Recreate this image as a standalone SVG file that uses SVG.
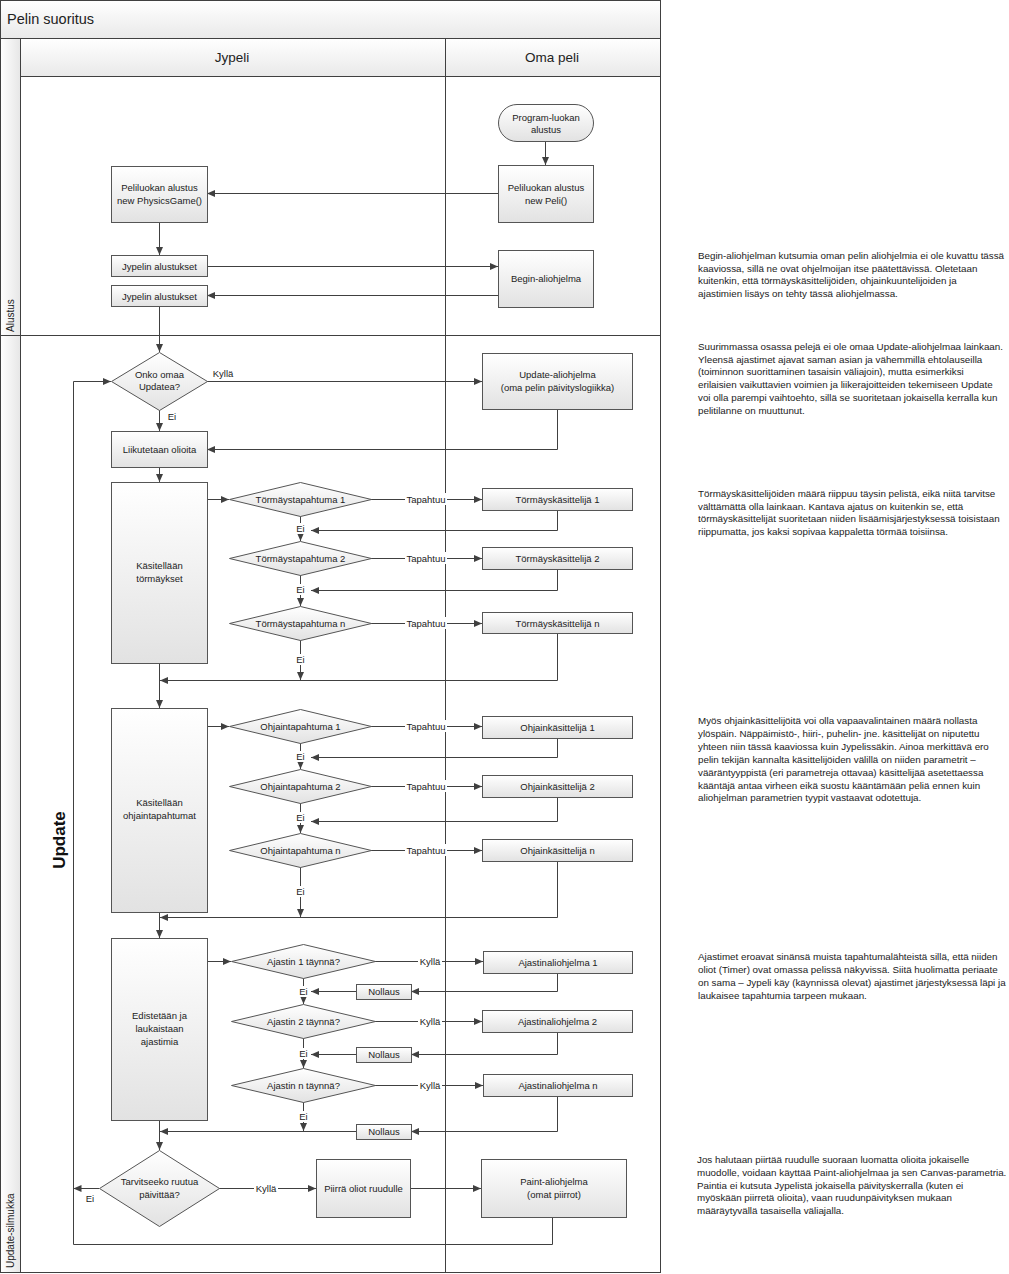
<svg xmlns="http://www.w3.org/2000/svg" width="1009" height="1274" viewBox="0 0 1009 1274">
<defs>
<linearGradient id="g" x1="0" y1="0" x2="0" y2="1"><stop offset="0" stop-color="#ffffff"/><stop offset="1" stop-color="#e2e2e2"/></linearGradient>
<linearGradient id="gh" x1="0" y1="0" x2="0" y2="1"><stop offset="0" stop-color="#ffffff"/><stop offset="1" stop-color="#e9e9e9"/></linearGradient>
<linearGradient id="gv" x1="0" y1="0" x2="1" y2="0"><stop offset="0" stop-color="#ffffff"/><stop offset="1" stop-color="#e6e6e6"/></linearGradient>
<marker id="ah" viewBox="0 0 8 7" refX="8" refY="3.5" markerWidth="8" markerHeight="7" markerUnits="userSpaceOnUse" orient="auto"><path d="M0,0 L8,3.5 L0,7 z" fill="#404040"/></marker>
</defs>
<style>
.ln{stroke:#404040;stroke-width:1;fill:none}
.ar{marker-end:url(#ah)}
.bx{fill:url(#g);stroke:#555;stroke-width:1}
.fr{stroke:#404040;stroke-width:1;fill:none}
.t{font-family:"Liberation Sans",Arial,sans-serif;font-size:9.5px;fill:#222;text-anchor:middle}
.lb{font-family:"Liberation Sans",Arial,sans-serif;font-size:9.5px;fill:#222;text-anchor:middle}
.bg{fill:#ffffff}
.nt{font-family:"Liberation Sans",Arial,sans-serif;font-size:9.8px;fill:#222}
.hd{font-family:"Liberation Sans",Arial,sans-serif;font-size:13.5px;fill:#222}
</style>
<rect x="0" y="0" width="1009" height="1274" fill="#ffffff"/>

<g id="pool">
<rect x="0.5" y="0.5" width="660" height="38" fill="url(#gh)"/>
<rect x="0.5" y="38.5" width="20" height="1234" fill="url(#gv)"/>
<rect x="20.5" y="38.5" width="640" height="38" fill="url(#gh)"/>
<rect x="0.5" y="0.5" width="660" height="1272" class="fr"/>
<line x1="0.5" y1="38.5" x2="660.5" y2="38.5" class="fr"/>
<line x1="20.5" y1="38.5" x2="20.5" y2="1272.5" class="fr"/>
<line x1="20.5" y1="76.5" x2="660.5" y2="76.5" class="fr"/>
<line x1="445.5" y1="38.5" x2="445.5" y2="1272.5" class="fr"/>
<line x1="0.5" y1="335.5" x2="660.5" y2="335.5" class="fr"/>
<text x="7" y="24" class="hd" style="font-size:14.5px">Pelin suoritus</text>
<text x="232" y="62" class="hd" text-anchor="middle">Jypeli</text>
<text x="552" y="62" class="hd" text-anchor="middle">Oma peli</text>
<text transform="translate(14,332) rotate(-90)" class="nt" style="font-size:10px">Alustus</text>
<text transform="translate(14,1268) rotate(-90)" class="nt" style="font-size:10px">Update-silmukka</text>
<text transform="translate(65,840) rotate(-90)" font-family="Liberation Sans,Arial,sans-serif" font-size="17" font-weight="bold" fill="#111" text-anchor="middle">Update</text>
</g>

<g id="connectors">
<path class="ln ar" d="M545.5,141 V165"/>
<path class="ln ar" d="M498,193.5 H207"/>
<path class="ln ar" d="M159.5,222 V255"/>
<path class="ln ar" d="M207,266.5 H498"/>
<path class="ln ar" d="M498,295.5 H207"/>
<path class="ln ar" d="M159.5,306 V352"/>
<path class="ln ar" d="M207,381.5 H482"/>
<text x="223" y="377" class="lb">Kyllä</text>
<path class="ln ar" d="M557.5,409 V449.5 H207"/>
<path class="ln ar" d="M159.5,410 V431"/>
<text x="172" y="420" class="lb">Ei</text>
<path class="ln ar" d="M159.5,467 V482"/>
<path class="ln ar" d="M552.5,1217 V1244.5 H73.5 V381.5 H111"/>

<path class="ln ar" d="M207,499.5 H229"/>
<path class="ln ar" d="M371,499.5 H482"/>
<path class="ln ar" d="M557.5,510 V530.5 H311"/>
<path class="ln ar" d="M300.5,516 V541"/>
<path class="ln ar" d="M371,558.5 H482"/>
<path class="ln ar" d="M557.5,569 V590.5 H311"/>
<path class="ln ar" d="M300.5,575 V606"/>
<path class="ln ar" d="M371,623.5 H482"/>
<path class="ln ar" d="M557.5,633 V680.5 H160"/>
<path class="ln ar" d="M300.5,640 V680"/>
<path class="ln ar" d="M159.5,663 V708"/>

<path class="ln ar" d="M207,726.5 H229"/>
<path class="ln ar" d="M371,726.5 H482"/>
<path class="ln ar" d="M557.5,738 V757.5 H311"/>
<path class="ln ar" d="M300.5,743 V769"/>
<path class="ln ar" d="M371,786.5 H482"/>
<path class="ln ar" d="M557.5,797 V821.5 H311"/>
<path class="ln ar" d="M300.5,803 V833"/>
<path class="ln ar" d="M371,850.5 H482"/>
<path class="ln ar" d="M557.5,861 V917.5 H160"/>
<path class="ln ar" d="M300.5,867 V917"/>
<path class="ln ar" d="M159.5,912 V938"/>

<path class="ln ar" d="M207,961.5 H231"/>
<path class="ln ar" d="M375,961.5 H483"/>
<path class="ln ar" d="M557.5,973 V991.5 H411"/>
<path class="ln ar" d="M356,991.5 H311"/>
<path class="ln ar" d="M303.5,978 V1004"/>
<path class="ln ar" d="M375,1021.5 H482"/>
<path class="ln ar" d="M557.5,1032 V1054.5 H411"/>
<path class="ln ar" d="M356,1054.5 H311"/>
<path class="ln ar" d="M303.5,1038 V1068"/>
<path class="ln ar" d="M375,1085.5 H483"/>
<path class="ln ar" d="M557.5,1096 V1131.5 H411"/>
<path class="ln ar" d="M356,1131.5 H160"/>
<path class="ln ar" d="M303.5,1102 V1131"/>
<path class="ln ar" d="M159.5,1120 V1150"/>

<path class="ln ar" d="M219,1188.5 H316"/>
<path class="ln ar" d="M410,1188.5 H481"/>
<path class="ln ar" d="M99,1188.5 H73.5"/>
<text x="90" y="1202" class="lb">Ei</text>

<g>
<rect x="405" y="493" width="42" height="12" class="bg"/><text x="426" y="502.5" class="lb">Tapahtuu</text>
<rect x="405" y="552" width="42" height="12" class="bg"/><text x="426" y="561.5" class="lb">Tapahtuu</text>
<rect x="405" y="617" width="42" height="12" class="bg"/><text x="426" y="626.5" class="lb">Tapahtuu</text>
<rect x="405" y="720" width="42" height="12" class="bg"/><text x="426" y="729.5" class="lb">Tapahtuu</text>
<rect x="405" y="780" width="42" height="12" class="bg"/><text x="426" y="789.5" class="lb">Tapahtuu</text>
<rect x="405" y="844" width="42" height="12" class="bg"/><text x="426" y="853.5" class="lb">Tapahtuu</text>
<rect x="418" y="955" width="24" height="12" class="bg"/><text x="430" y="964.5" class="lb">Kyllä</text>
<rect x="418" y="1015" width="24" height="12" class="bg"/><text x="430" y="1024.5" class="lb">Kyllä</text>
<rect x="418" y="1079" width="24" height="12" class="bg"/><text x="430" y="1088.5" class="lb">Kyllä</text>
<rect x="254" y="1182" width="24" height="12" class="bg"/><text x="266" y="1191.5" class="lb">Kyllä</text>
<rect x="295" y="523" width="11" height="11" class="bg"/><text x="300.5" y="532" class="lb">Ei</text>
<rect x="295" y="584" width="11" height="11" class="bg"/><text x="300.5" y="593" class="lb">Ei</text>
<rect x="295" y="654" width="11" height="11" class="bg"/><text x="300.5" y="663" class="lb">Ei</text>
<rect x="295" y="751" width="11" height="11" class="bg"/><text x="300.5" y="760" class="lb">Ei</text>
<rect x="295" y="812" width="11" height="11" class="bg"/><text x="300.5" y="821" class="lb">Ei</text>
<rect x="295" y="886" width="11" height="11" class="bg"/><text x="300.5" y="895" class="lb">Ei</text>
<rect x="298" y="986" width="11" height="11" class="bg"/><text x="303.5" y="995" class="lb">Ei</text>
<rect x="298" y="1048" width="11" height="11" class="bg"/><text x="303.5" y="1057" class="lb">Ei</text>
<rect x="298" y="1111" width="11" height="11" class="bg"/><text x="303.5" y="1120" class="lb">Ei</text>
</g>
</g>

<g id="n_start"><rect x="498.5" y="104.5" width="95" height="37" rx="18.5" class="bx"/><text x="546" y="120.5" class="t">Program-luokan</text><text x="546" y="133" class="t">alustus</text></g>
<g id="n_peli"><rect x="498.5" y="165.5" width="95" height="57" class="bx"/><text x="546" y="190.5" class="t">Peliluokan alustus</text><text x="546" y="203.5" class="t">new Peli()</text></g>
<g id="n_phys"><rect x="111.5" y="166.5" width="96" height="56" class="bx"/><text x="159.5" y="190.5" class="t">Peliluokan alustus</text><text x="159.5" y="203.5" class="t">new PhysicsGame()</text></g>
<g id="n_jyp1"><rect x="111.5" y="255.5" width="96" height="21" class="bx"/><text x="159.5" y="269.5" class="t">Jypelin alustukset</text></g>
<g id="n_begin"><rect x="498.5" y="250.5" width="95" height="57" class="bx"/><text x="546" y="282" class="t">Begin-aliohjelma</text></g>
<g id="n_jyp2"><rect x="111.5" y="285.5" width="96" height="21" class="bx"/><text x="159.5" y="299.5" class="t">Jypelin alustukset</text></g>
<g id="n_upddec"><polygon points="159.5,352.5 207.5,381.5 159.5,410.5 111.5,381.5" class="bx"/><text x="159.5" y="377.5" class="t">Onko omaa</text><text x="159.5" y="390" class="t">Updatea?</text></g>
<g id="n_updsub"><rect x="482.5" y="353.5" width="150" height="56" class="bx"/><text x="557.5" y="377.5" class="t">Update-aliohjelma</text><text x="557.5" y="390.5" class="t">(oma pelin päivityslogiikka)</text></g>
<g id="n_move"><rect x="111.5" y="431.5" width="96" height="36" class="bx"/><text x="159.5" y="452.5" class="t">Liikutetaan olioita</text></g>

<g id="n_coll"><rect x="111.5" y="482.5" width="96" height="181" class="bx"/><text x="159.5" y="569" class="t">Käsitellään</text><text x="159.5" y="582" class="t">törmäykset</text></g>
<g id="n_cd1"><polygon points="300.5,482.5 371.5,499.5 300.5,516.5 229.5,499.5" class="bx"/><text x="300.5" y="503" class="t">Törmäystapahtuma 1</text></g>
<g id="n_ch1"><rect x="482.5" y="488.5" width="150" height="22" class="bx"/><text x="557.5" y="503" class="t">Törmäyskäsittelijä 1</text></g>
<g id="n_cd2"><polygon points="300.5,541.5 371.5,558.5 300.5,575.5 229.5,558.5" class="bx"/><text x="300.5" y="562" class="t">Törmäystapahtuma 2</text></g>
<g id="n_ch2"><rect x="482.5" y="547.5" width="150" height="22" class="bx"/><text x="557.5" y="562" class="t">Törmäyskäsittelijä 2</text></g>
<g id="n_cd3"><polygon points="300.5,606.5 371.5,623.5 300.5,640.5 229.5,623.5" class="bx"/><text x="300.5" y="627" class="t">Törmäystapahtuma n</text></g>
<g id="n_ch3"><rect x="482.5" y="612.5" width="150" height="21" class="bx"/><text x="557.5" y="626.5" class="t">Törmäyskäsittelijä n</text></g>

<g id="n_ctrl"><rect x="111.5" y="708.5" width="96" height="204" class="bx"/><text x="159.5" y="806" class="t">Käsitellään</text><text x="159.5" y="819" class="t">ohjaintapahtumat</text></g>
<g id="n_od1"><polygon points="300.5,709.5 371.5,726.5 300.5,743.5 229.5,726.5" class="bx"/><text x="300.5" y="730" class="t">Ohjaintapahtuma 1</text></g>
<g id="n_oh1"><rect x="482.5" y="716.5" width="150" height="22" class="bx"/><text x="557.5" y="731" class="t">Ohjainkäsittelijä 1</text></g>
<g id="n_od2"><polygon points="300.5,769.5 371.5,786.5 300.5,803.5 229.5,786.5" class="bx"/><text x="300.5" y="790" class="t">Ohjaintapahtuma 2</text></g>
<g id="n_oh2"><rect x="482.5" y="775.5" width="150" height="22" class="bx"/><text x="557.5" y="790" class="t">Ohjainkäsittelijä 2</text></g>
<g id="n_od3"><polygon points="300.5,833.5 371.5,850.5 300.5,867.5 229.5,850.5" class="bx"/><text x="300.5" y="854" class="t">Ohjaintapahtuma n</text></g>
<g id="n_oh3"><rect x="482.5" y="839.5" width="150" height="22" class="bx"/><text x="557.5" y="854" class="t">Ohjainkäsittelijä n</text></g>

<g id="n_timer"><rect x="111.5" y="938.5" width="96" height="182" class="bx"/><text x="159.5" y="1019" class="t">Edistetään ja</text><text x="159.5" y="1032" class="t">laukaistaan</text><text x="159.5" y="1045" class="t">ajastimia</text></g>
<g id="n_td1"><polygon points="303.5,944.5 375.5,961.5 303.5,978.5 231.5,961.5" class="bx"/><text x="303.5" y="965" class="t">Ajastin 1 täynnä?</text></g>
<g id="n_th1"><rect x="483.5" y="951.5" width="149" height="22" class="bx"/><text x="558" y="966" class="t">Ajastinaliohjelma 1</text></g>
<g id="n_nl1"><rect x="356.5" y="984.5" width="55" height="15" class="bx"/><text x="384" y="995" class="t">Nollaus</text></g>
<g id="n_td2"><polygon points="303.5,1004.5 375.5,1021.5 303.5,1038.5 231.5,1021.5" class="bx"/><text x="303.5" y="1025" class="t">Ajastin 2 täynnä?</text></g>
<g id="n_th2"><rect x="482.5" y="1010.5" width="150" height="22" class="bx"/><text x="557.5" y="1025" class="t">Ajastinaliohjelma 2</text></g>
<g id="n_nl2"><rect x="356.5" y="1047.5" width="55" height="15" class="bx"/><text x="384" y="1058" class="t">Nollaus</text></g>
<g id="n_td3"><polygon points="303.5,1068.5 375.5,1085.5 303.5,1102.5 231.5,1085.5" class="bx"/><text x="303.5" y="1089" class="t">Ajastin n täynnä?</text></g>
<g id="n_th3"><rect x="483.5" y="1074.5" width="149" height="22" class="bx"/><text x="558" y="1089" class="t">Ajastinaliohjelma n</text></g>
<g id="n_nl3"><rect x="356.5" y="1124.5" width="55" height="15" class="bx"/><text x="384" y="1135" class="t">Nollaus</text></g>

<g id="n_drawdec"><polygon points="159.5,1150.5 219.5,1188.5 159.5,1226.5 99.5,1188.5" class="bx"/><text x="159.5" y="1184.5" class="t">Tarvitseeko ruutua</text><text x="159.5" y="1197.5" class="t">päivittää?</text></g>
<g id="n_draw"><rect x="316.5" y="1159.5" width="94" height="58" class="bx"/><text x="363.5" y="1192" class="t">Piirrä oliot ruudulle</text></g>
<g id="n_paint"><rect x="481.5" y="1159.5" width="145" height="58" class="bx"/><text x="554" y="1184.5" class="t">Paint-aliohjelma</text><text x="554" y="1197.5" class="t">(omat piirrot)</text></g>

<g id="notes">
<text class="nt" x="698" y="259"><tspan x="698">Begin-aliohjelman kutsumia oman pelin aliohjelmia ei ole kuvattu tässä</tspan><tspan x="698" dy="12.7">kaaviossa, sillä ne ovat ohjelmoijan itse päätettävissä. Oletetaan</tspan><tspan x="698" dy="12.7">kuitenkin, että törmäyskäsittelijöiden, ohjainkuuntelijoiden ja</tspan><tspan x="698" dy="12.7">ajastimien lisäys on tehty tässä aliohjelmassa.</tspan></text>
<text class="nt" x="698" y="350"><tspan x="698">Suurimmassa osassa pelejä ei ole omaa Update-aliohjelmaa lainkaan.</tspan><tspan x="698" dy="12.7">Yleensä ajastimet ajavat saman asian ja vähemmillä ehtolauseilla</tspan><tspan x="698" dy="12.7">(toiminnon suorittaminen tasaisin väliajoin), mutta esimerkiksi</tspan><tspan x="698" dy="12.7">erilaisien vaikuttavien voimien ja liikerajoitteiden tekemiseen Update</tspan><tspan x="698" dy="12.7">voi olla parempi vaihtoehto, sillä se suoritetaan jokaisella kerralla kun</tspan><tspan x="698" dy="12.7">pelitilanne on muuttunut.</tspan></text>
<text class="nt" x="698" y="497"><tspan x="698">Törmäyskäsittelijöiden määrä riippuu täysin pelistä, eikä niitä tarvitse</tspan><tspan x="698" dy="12.7">välttämättä olla lainkaan. Kantava ajatus on kuitenkin se, että</tspan><tspan x="698" dy="12.7">törmäyskäsittelijät suoritetaan niiden lisäämisjärjestyksessä toisistaan</tspan><tspan x="698" dy="12.7">riippumatta, jos kaksi sopivaa kappaletta törmää toisiinsa.</tspan></text>
<text class="nt" x="698" y="724"><tspan x="698">Myös ohjainkäsittelijöitä voi olla vapaavalintainen määrä nollasta</tspan><tspan x="698" dy="12.9">ylöspäin. Näppäimistö-, hiiri-, puhelin- jne. käsittelijät on niputettu</tspan><tspan x="698" dy="12.9">yhteen niin tässä kaaviossa kuin Jypelissäkin. Ainoa merkittävä ero</tspan><tspan x="698" dy="12.9">pelin tekijän kannalta käsittelijöiden välillä on niiden parametrit –</tspan><tspan x="698" dy="12.9">vääräntyyppistä (eri parametreja ottavaa) käsittelijää asetettaessa</tspan><tspan x="698" dy="12.9">kääntäjä antaa virheen eikä suostu kääntämään peliä ennen kuin</tspan><tspan x="698" dy="12.9">aliohjelman parametrien tyypit vastaavat odotettuja.</tspan></text>
<text class="nt" x="698" y="960"><tspan x="698">Ajastimet eroavat sinänsä muista tapahtumalähteistä sillä, että niiden</tspan><tspan x="698" dy="12.9">oliot (Timer) ovat omassa pelissä näkyvissä. Siitä huolimatta periaate</tspan><tspan x="698" dy="12.9">on sama – Jypeli käy (käynnissä olevat) ajastimet järjestyksessä läpi ja</tspan><tspan x="698" dy="12.9">laukaisee tapahtumia tarpeen mukaan.</tspan></text>
<text class="nt" x="697" y="1163"><tspan x="697">Jos halutaan piirtää ruudulle suoraan luomatta olioita jokaiselle</tspan><tspan x="697" dy="12.8">muodolle, voidaan käyttää Paint-aliohjelmaa ja sen Canvas-parametria.</tspan><tspan x="697" dy="12.8">Paintia ei kutsuta Jypelistä jokaisella päivityskerralla (kuten ei</tspan><tspan x="697" dy="12.8">myöskään piirretä olioita), vaan ruudunpäivityksen mukaan</tspan><tspan x="697" dy="12.8">määräytyvällä tasaisella väliajalla.</tspan></text>
</g>
</svg>
